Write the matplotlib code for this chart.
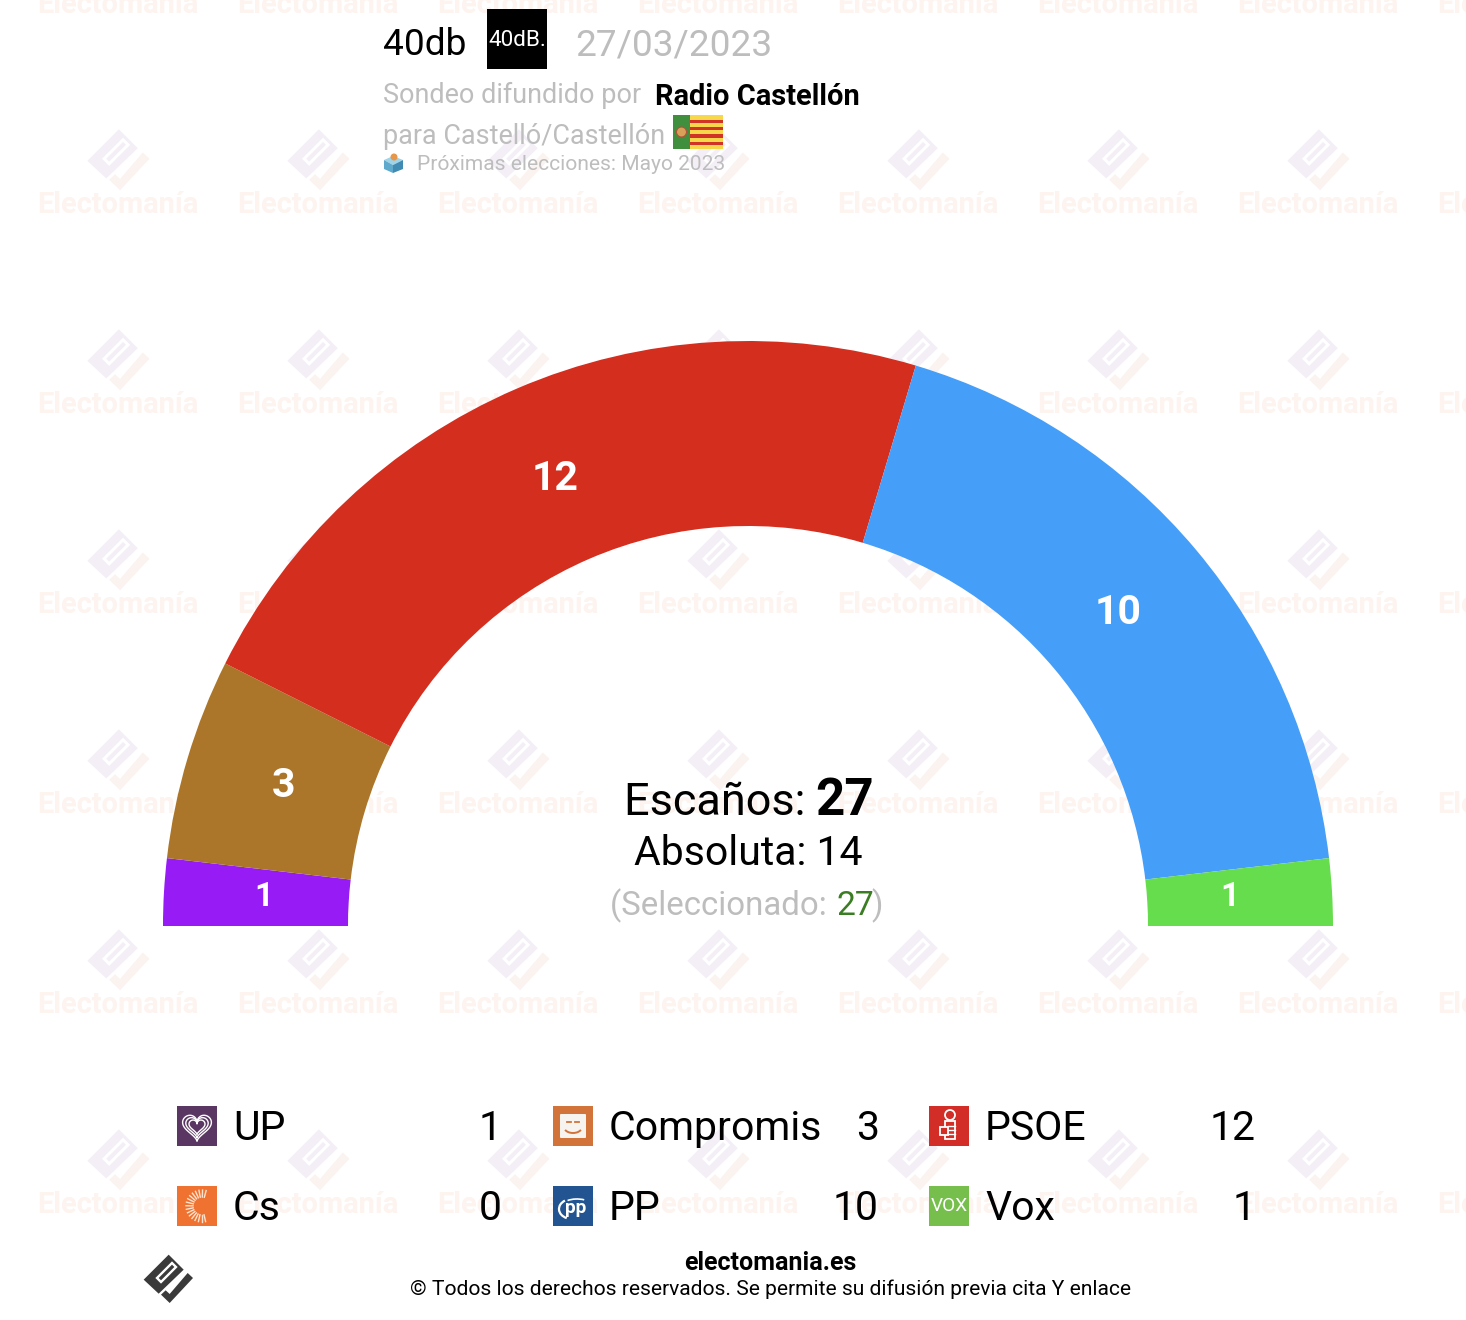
#!/usr/bin/env python3
"""Hemiciclo del sondeo 40db para Castello/Castellon (27/03/2023)."""
import numpy as np
import matplotlib
matplotlib.use("Agg")
import matplotlib.pyplot as plt
from matplotlib.patches import Wedge, Rectangle, Polygon, FancyBboxPatch, Arc

plt.rcParams["font.family"] = ["Roboto", "DejaVu Sans"]

# --- Datos ---
PARTIDOS = ["UP", "Compromis", "PSOE", "Cs", "PP", "Vox"]
ESCANOS = [1, 3, 12, 0, 10, 1]
COLORES = ["#961BF5", "#AB762A", "#D42E1F", "#F07230", "#459EF8", "#66DD4D"]
ABSOLUTA = 14
SELECCIONADO = 27
ENCUESTADORA = "40db"
FECHA = "27/03/2023"
MEDIO = "Radio Castellón"
AMBITO = "Castelló/Castellón"
PROXIMAS = "Mayo 2023"

# orden del hemiciclo -> celdas de la leyenda (3 columnas, 2 filas)
LEYENDA_ORDEN = ["UP", "Compromis", "PSOE", "Cs", "PP", "Vox"]
LOGO_COLOR = {"UP": "#5A3763", "Compromis": "#D2733A", "PSOE": "#D22D26",
              "Cs": "#F07230", "PP": "#215491", "Vox": "#76BF4C"}

W, H = 1466, 1320
CX, CY, R_OUT, R_IN = 748, 926, 585, 400
GRIS = "#BDBDBD"


def fs(px):
    # tamano de letra en pixeles -> puntos (dpi=100)
    return px * 0.72


fig = plt.figure(figsize=(W / 100, H / 100), dpi=100, facecolor="white")
ax = fig.add_axes([0, 0, 1, 1])
ax.set_xlim(0, W)
ax.set_ylim(H, 0)
ax.axis("off")


def logo_formas(cx, cy, size, col1, col2, hueco="white", z=1):
    # coordenadas tomadas de una caja de 150 px alrededor de (113, 568)
    k = size / 150.0
    def pts(lista):
        return [(cx + (x - 113) * k, cy + (y - 568) * k) for x, y in lista]
    ax.add_patch(Polygon(pts([(115, 495), (160, 540), (85, 612), (40, 570)]), fc=col1, ec="none", zorder=z))
    ax.add_patch(Polygon(pts([(75, 565), (125, 515), (142, 532), (92, 582)]), fc=hueco, ec="none", zorder=z))
    ax.add_patch(Polygon(pts([(85, 565), (125, 525), (132, 532), (92, 572)]), fc=col1, ec="none", zorder=z))
    ax.add_patch(Polygon(pts([(172, 550), (188, 565), (118, 640), (92, 615), (106, 602), (118, 613)]),
                         fc=col2, ec="none", zorder=z))


# --- Marca de agua ---
for col in range(-1, 8):
    for fila in range(0, 7):
        xm = 118 + 200 * col
        ym = 4 + 200 * fila
        logo_formas(xm, ym - 44, 63, "#F4EFF7", "#FBF3EF", z=1)
        ax.text(xm, ym + 9, "Electomanía", fontsize=fs(29), fontweight="bold", color="#FDF3EF",
                ha="center", va="baseline", zorder=1, clip_on=True)

# --- Hemiciclo ---
total = sum(ESCANOS)
acum = 0
for partido, n, color in zip(PARTIDOS, ESCANOS, COLORES):
    if n == 0:
        continue
    a0 = 180 * acum / total
    a1 = 180 * (acum + n) / total
    ax.add_patch(Wedge((CX, CY), R_OUT, 180 + a0, 180 + a1, width=R_OUT - R_IN, fc=color, ec="none", zorder=3))
    medio = np.radians(180 + (a0 + a1) / 2)
    xt = CX + 484 * np.cos(medio) - 1
    yt = CY + 486 * np.sin(medio) - 1
    ax.text(xt, yt, str(n), color="white", fontweight="bold", fontsize=fs(41 if n > 1 else 33),
            ha="center", va="center", zorder=4)
    acum += n

# --- Centro ---
ax.text(624, 815, "Escaños: ", fontsize=fs(45), color="black", va="baseline", zorder=5)
ax.text(815, 815, str(total), fontsize=fs(51), fontweight="bold", color="black", va="baseline", zorder=5)
ax.text(748, 865, f"Absoluta: {ABSOLUTA}", fontsize=fs(41), color="black", ha="center", va="baseline", zorder=5)
ax.text(610, 915, "(Seleccionado: ", fontsize=fs(33), color=GRIS, va="baseline", zorder=5)
ax.text(836, 915, str(SELECCIONADO), fontsize=fs(33.5), color="#3B7D23", va="baseline", zorder=5)
ax.text(871, 915, ")", fontsize=fs(33), color=GRIS, va="baseline", zorder=5)

# --- Cabecera ---
ax.text(383, 55, ENCUESTADORA, fontsize=fs(37), color="black", va="baseline", zorder=5)
ax.add_patch(Rectangle((487, 9), 60, 60, fc="black", ec="none", zorder=5))
ax.text(517, 40, "40dB.", fontsize=fs(22.5), color="white", ha="center", va="center", zorder=6)
ax.text(575, 55, FECHA, fontsize=fs(37), color=GRIS, va="baseline", zorder=5)
ax.text(383, 103, "Sondeo difundido por", fontsize=fs(27), color=GRIS, va="baseline", zorder=5)
ax.text(655, 105, MEDIO, fontsize=fs(29), fontweight="bold", color="black", va="baseline", zorder=5)
ax.text(383, 144, f"para {AMBITO}", fontsize=fs(27), color=GRIS, va="baseline", zorder=5)
ax.text(417, 170, f"Próximas elecciones: {PROXIMAS}", fontsize=fs(21), color=GRIS, va="baseline", zorder=5)

# bandera
ax.add_patch(Rectangle((673, 115), 50, 34, fc="#F8D84B", ec="none", zorder=5))
ax.add_patch(Rectangle((673, 115), 17, 34, fc="#3F8F3E", ec="none", zorder=6))
for ys in (119.5, 126.5, 134, 141.5):
    ax.add_patch(Rectangle((690, ys), 33, 3.6, fc="#CF3427", ec="none", zorder=6))
ax.add_patch(plt.Circle((681.5, 132), 5, fc="#D9A05A", ec="#B5503B", lw=0.8, zorder=7))

# urna
ax.add_patch(Polygon([(384, 160), (393, 156), (403, 160), (393, 165)], fc="#9FD3E8", ec="none", zorder=5))
ax.add_patch(Polygon([(384, 160), (393, 165), (393, 173), (384, 169)], fc="#5FA9CC", ec="none", zorder=5))
ax.add_patch(Polygon([(403, 160), (393, 165), (393, 173), (403, 169)], fc="#3F8BB3", ec="none", zorder=5))
ax.add_patch(plt.Circle((394, 157), 3.5, fc="#E8964A", ec="none", zorder=6))


# --- Logos de la leyenda ---
def dibuja_logo(partido, x, y):
    cx, cy = x + 20, y + 20
    ax.add_patch(Rectangle((x, y), 40, 40, fc=LOGO_COLOR[partido], ec="none", zorder=5))
    if partido == "UP":
        t = np.linspace(0, 2 * np.pi, 100)
        hx = 16 * np.sin(t) ** 3
        hy = 13 * np.cos(t) - 5 * np.cos(2 * t) - 2 * np.cos(3 * t) - np.cos(4 * t)
        for k in (0.9, 0.7, 0.5):
            ax.plot(cx + hx * k, cy - hy * k, color="white", lw=1.0, zorder=6)
    elif partido == "Compromis":
        ax.add_patch(FancyBboxPatch((x + 7, y + 8), 26, 24, boxstyle="round,pad=0,rounding_size=1",
                                    fc="#F7F3EE", ec="none", zorder=6))
        ax.add_patch(Arc((cx, cy + 1), 18, 12, theta1=20, theta2=160, color=LOGO_COLOR[partido], lw=1.4, zorder=7))
        ax.plot([cx - 6, cx - 2], [cy - 4, cy - 4], color=LOGO_COLOR[partido], lw=1.3, zorder=7)
        ax.plot([cx + 2, cx + 6], [cy - 4, cy - 4], color=LOGO_COLOR[partido], lw=1.3, zorder=7)
    elif partido == "PSOE":
        ax.add_patch(plt.Circle((cx + 1, cy - 11), 5, fc="none", ec="white", lw=1.3, zorder=6))
        ax.add_patch(Rectangle((cx - 4, cy - 5), 10, 18, fc="none", ec="white", lw=1.3, zorder=6))
        ax.add_patch(Rectangle((cx - 9, cy + 1), 8, 8, fc=LOGO_COLOR[partido], ec="white", lw=1.3, zorder=7))
        for dy in (0, 4, 8):
            ax.plot([cx - 1, cx + 6], [cy + dy, cy + dy], color="white", lw=1.0, zorder=7)
    elif partido == "Cs":
        for ang in np.radians(np.arange(75, 290, 13)):
            ax.plot([cx + 5 + 9 * np.cos(ang), cx + 5 + 16 * np.cos(ang)],
                    [cy - 9 * np.sin(ang), cy - 16 * np.sin(ang)], color="#FBE3D0", lw=1.0, zorder=6)
    elif partido == "PP":
        ax.text(cx + 3, cy + 2, "pp", color="white", fontsize=fs(19), fontweight="bold",
                ha="center", va="center", zorder=6)
        ax.add_patch(Arc((cx - 1, cy + 3), 26, 20, theta1=120, theta2=230, color="white", lw=1.6, zorder=6))
        ax.add_patch(Arc((cx + 4, cy - 2), 26, 10, theta1=200, theta2=330, color="white", lw=1.2, zorder=6))
    elif partido == "Vox":
        ax.text(cx, cy, "VOX", color="white", fontsize=fs(19), ha="center", va="center", zorder=6)


# --- Leyenda ---
COL_X = [177, 553, 929]
COL_VAL = [502, 879, 1256]
FILA_Y = [1106, 1186]
for i, partido in enumerate(LEYENDA_ORDEN):
    c, f = i % 3, i // 3
    dibuja_logo(partido, COL_X[c], FILA_Y[f])
    base = FILA_Y[f] + 34
    ax.text(COL_X[c] + 56, base, partido, fontsize=fs(41), color="black", va="baseline", zorder=5)
    ax.text(COL_VAL[c], base, str(ESCANOS[PARTIDOS.index(partido)]), fontsize=fs(41), color="black",
            ha="right", va="baseline", zorder=5)

# --- Pie ---
logo_formas(168, 1279, 50, "#3A3A3A", "#3A3A3A", z=5)
ax.text(770, 1270, "electomania.es", fontsize=fs(25), fontweight="bold", color="black",
        ha="center", va="baseline", zorder=5)
ax.text(770, 1295, "© Todos los derechos reservados. Se permite su difusión previa cita Y enlace",
        fontsize=fs(21), color="black", ha="center", va="baseline", zorder=5)

fig.savefig("out.png", dpi=100, facecolor="white")
